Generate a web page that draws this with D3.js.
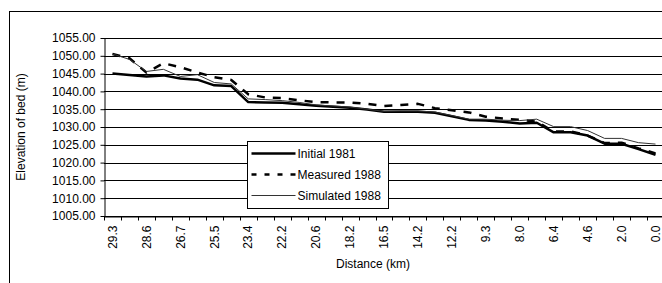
<!DOCTYPE html>
<html lang="en">
<head>
<meta charset="utf-8">
<title>Elevation of bed</title>
<script src="https://d3js.org/d3.v7.min.js"></script>
<style>
  body { margin: 0; background: #fff; }
  svg text { font-family: "Liberation Sans", Arial, sans-serif; fill: #000; }
</style>
</head>
<body>
<div id="main"></div>
<script>
// distance (km) categories - only every 2nd label is shown on the axis
const distances = ['29.3', '29.0', '28.6', '27.6', '26.7', '26.1', '25.5', '24.6', '23.4', '22.8',
                   '22.2', '21.4', '20.6', '19.4', '18.2', '17.3', '16.5', '15.4', '14.2', '13.2',
                   '12.2', '10.8', '9.3', '8.6', '8.0', '7.2', '6.4', '5.5', '4.6', '3.3',
                   '2.0', '1.0', '0.0'];
const initial1981 = [1045.0, 1044.6, 1044.2, 1044.5, 1043.6, 1043.3, 1041.7, 1041.5, 1037.0, 1036.9,
                     1036.8, 1036.4, 1036.0, 1035.7, 1035.4, 1034.9, 1034.3, 1034.3, 1034.3, 1034.0,
                     1033.0, 1032.0, 1031.8, 1031.5, 1031.0, 1031.2, 1028.5, 1028.5, 1027.6, 1025.3,
                     1025.3, 1023.8, 1022.2];
const measured1988 = [1050.5, 1049.3, 1045.3, 1047.9, 1046.8, 1045.3, 1044.0, 1043.2, 1039.2, 1038.3,
                      1038.1, 1037.5, 1037.0, 1036.9, 1036.9, 1036.5, 1035.9, 1036.2, 1036.5, 1035.3,
                      1034.7, 1034.1, 1032.9, 1032.4, 1032.0, 1031.5, 1028.7, 1028.8, 1027.6, 1025.5,
                      1025.6, 1024.0, 1022.6];
const simulated1988 = [1050.5, 1049.0, 1045.6, 1046.2, 1044.2, 1044.7, 1042.5, 1042.1, 1037.9, 1037.7,
                       1037.4, 1036.9, 1036.2, 1035.9, 1035.6, 1035.0, 1034.4, 1034.5, 1034.5, 1034.2,
                       1033.2, 1032.2, 1032.2, 1031.9, 1031.8, 1032.2, 1030.1, 1030.1, 1029.0, 1026.8,
                       1026.8, 1025.6, 1025.2];
const yTicks = [1005, 1010, 1015, 1020, 1025, 1030, 1035, 1040, 1045, 1050, 1055];
const seriesNames = ['Initial 1981', 'Measured 1988', 'Simulated 1988'];

const width = 662, height = 283;
const plotLeft = 104, plotRight = 664, plotTop = 38, plotBottom = 216;

const svg = d3.select('#main').append('svg')
    .attr('width', width)
    .attr('height', height);

// outer chart border (continues past the cropped right/bottom edges)
svg.append('rect')
    .attr('x', 9.5).attr('y', 11.5)
    .attr('width', 700).attr('height', 300)
    .attr('fill', 'none').attr('stroke', '#000').attr('stroke-width', 1);

const xScale = d3.scaleBand()
    .domain(distances)
    .range([plotLeft, plotRight])
    .padding(0);

const yScale = d3.scaleLinear()
    .domain([1005, 1055])
    .range([plotBottom, plotTop]);

// gridlines
svg.append('g')
    .selectAll('line')
    .data(yTicks)
    .enter()
    .append('line')
    .attr('x1', plotLeft).attr('x2', plotRight)
    .attr('y1', d => Math.round(yScale(d)) + 0.5)
    .attr('y2', d => Math.round(yScale(d)) + 0.5)
    .attr('stroke', '#000').attr('stroke-width', 1);

// y axis
const yAxis = d3.axisLeft(yScale)
    .tickValues(yTicks)
    .tickFormat(d3.format('.2f'))
    .tickSizeInner(4).tickSizeOuter(0).tickPadding(5);

svg.append('g')
    .attr('transform', `translate(${plotLeft + 0.5}, 0)`)
    .call(yAxis)
    .call(g => g.selectAll('text').attr('font-size', 12).attr('font-family', '"Liberation Sans", Arial, sans-serif'))
    .call(g => g.selectAll('line, path').attr('stroke', '#000'));

// x axis: labels on every 2nd category, ticks at category boundaries
const xAxis = d3.axisBottom(xScale)
    .tickValues(distances.filter((d, i) => i % 2 === 0))
    .tickSize(0).tickPadding(0);

svg.append('g')
    .attr('transform', `translate(0, ${plotBottom + 0.5})`)
    .call(xAxis)
    .call(g => g.select('.domain').attr('stroke', '#000'))
    .call(g => g.selectAll('text')
        .attr('font-size', 12)
        .attr('font-family', '"Liberation Sans", Arial, sans-serif')
        .attr('transform', 'rotate(-90)')
        .attr('text-anchor', 'end')
        .attr('x', -9)
        .attr('y', 0)
        .attr('dy', '0.35em'));

const boundaries = distances.map(d => xScale(d)).concat([plotRight]);
svg.append('g')
    .selectAll('line')
    .data(boundaries)
    .enter()
    .append('line')
    .attr('x1', d => Math.round(d) + 0.5).attr('x2', d => Math.round(d) + 0.5)
    .attr('y1', plotBottom).attr('y2', plotBottom + 4.5)
    .attr('stroke', '#000');

// series lines
const styles = [
    { width: 2.5, dash: null, color: '#000' },
    { width: 2.5, dash: '8,8', color: '#000' },
    { width: 1, dash: null, color: '#333' }
];
const allSeries = [initial1981, measured1988, simulated1988];

const line = d3.line()
    .x((d, i) => xScale(distances[i]) + xScale.bandwidth() / 2)
    .y(d => yScale(d));

allSeries.forEach((values, s) => {
    svg.append('path')
        .datum(values)
        .attr('d', line)
        .attr('fill', 'none')
        .attr('stroke', styles[s].color)
        .attr('stroke-width', styles[s].width)
        .attr('stroke-dasharray', styles[s].dash)
        .attr('stroke-linejoin', 'round');
});

// axis titles
svg.append('text')
    .attr('transform', `translate(25, ${(plotTop + plotBottom) / 2}) rotate(-90)`)
    .attr('text-anchor', 'middle')
    .attr('font-size', 12)
    .text('Elevation of bed (m)');

svg.append('text')
    .attr('x', 373)
    .attr('y', 268)
    .attr('text-anchor', 'middle')
    .attr('font-size', 12)
    .text('Distance (km)');

// legend
const legend = svg.append('g').attr('transform', 'translate(247.5, 141.5)');
legend.append('rect')
    .attr('width', 141).attr('height', 67)
    .attr('fill', '#fff').attr('stroke', '#000');

seriesNames.forEach((name, i) => {
    const yRow = 12 + i * 21;
    legend.append('line')
        .attr('x1', 4).attr('x2', 48)
        .attr('y1', yRow).attr('y2', yRow)
        .attr('stroke', styles[i].color)
        .attr('stroke-width', styles[i].width)
        .attr('stroke-dasharray', i === 1 ? '5,8' : null);
    legend.append('text')
        .attr('x', 50)
        .attr('y', yRow)
        .attr('dy', '0.35em')
        .attr('font-size', 12)
        .text(name);
});
</script>
</body>
</html>
